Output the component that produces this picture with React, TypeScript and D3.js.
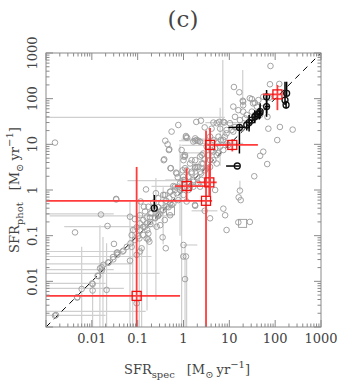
import React from 'react';
import * as d3 from 'd3';

const W = 337;
const H = 382;
const FRAME = { left: 46, right: 321, top: 53, bottom: 327 };

const axisDomain: [number, number] = [0.001, 1000];
const tickValues = [0.01, 0.1, 1, 10, 100, 1000];
const tickLabels = ['0.01', '0.1', '1', '10', '100', '1000'];

// [SFR_spec, SFR_phot] for the grey comparison sample
const grayPoints: [number, number][] = [
  [79, 520], [12.6, 180], [16.5, 138], [77, 207], [123, 210], [74, 105], [19.6, 90], [20, 72], [31, 98], [36, 81],
  [68, 40], [71, 22], [127, 24], [111, 12.4], [55, 6.9], [7.8, 30], [6, 31], [4.5, 30], [1.9, 31], [2.4, 33],
  [1.2, 14], [1.8, 12], [2.1, 12], [1.07, 5.4], [1.0, 4.5], [1.8, 3.2], [47, 5.6],
  [20, 86], [28, 102], [33, 79], [43, 93], [55, 110], [40, 67], [51, 61], [12.2, 67], [15.7, 56], [20, 52],
  [24, 44], [31, 52], [36, 44], [47, 44], [22, 37], [17, 34], [13.3, 40], [7.4, 31], [10.3, 29], [13.3, 24],
  [18.6, 22], [11.2, 20.6], [8.7, 20.6], [6.3, 22], [5.3, 29], [4.1, 22], [2.9, 23.5], [5.8, 14.7], [7.4, 12.4],
  [4.5, 12.4], [3.8, 14.7], [8.7, 10.5], [6.3, 8.9], [3.2, 8.9], [2.3, 11.4], [1.8, 13.5], [4.5, 6.9], [2.7, 6.3],
  [2.3, 5.4], [1.8, 4.5], [1.39, 3.8], [1.94, 3.2], [2.7, 3.8], [3.8, 4.5], [5.3, 5.8], [1.17, 2.7], [1.5, 2.3],
  [2.3, 2.5], [3.2, 3.0], [0.99, 1.95], [1.08, 1.65], [1.64, 1.52], [2.3, 1.18], [1.39, 1.18], [0.91, 1.09],
  [241, 21], [67, 3.7], [35, 2.0], [0.91, 7.5], [1.08, 3.0],
  [0.00157, 0.00177], [0.0048, 0.0045], [0.006, 0.0068], [0.0104, 0.0087], [0.0104, 0.0063], [0.021, 0.0065],
  [0.0134, 0.0133], [0.0164, 0.0203], [0.0164, 0.0171], [0.0229, 0.026], [0.0294, 0.0303], [0.036, 0.043],
  [0.036, 0.038], [0.0304, 0.066], [0.049, 0.047], [0.058, 0.057], [0.068, 0.0284], [0.07, 0.068], [0.087, 0.08],
  [0.103, 0.098], [0.095, 0.038], [0.112, 0.045], [0.122, 0.053], [0.112, 0.133], [0.133, 0.157], [0.157, 0.186],
  [0.171, 0.112], [0.157, 0.087], [0.18, 0.074], [0.186, 0.25], [0.2, 0.31], [0.24, 0.24], [0.28, 0.28],
  [0.26, 0.157], [0.33, 0.36], [0.39, 0.22], [0.43, 0.43], [0.55, 0.47], [0.41, 0.053], [0.137, 0.43],
  [0.116, 0.56], [0.068, 0.26], [0.152, 1.03], [0.25, 0.85], [0.39, 0.78], [0.52, 0.92], [0.65, 1.0], [0.77, 1.18],
  [0.0158, 0.29], [0.022, 0.163], [0.0043, 0.118], [0.034, 0.64], [1.0, 0.0625], [0.99, 0.035], [1.13, 0.035],
  [1.08, 0.0112],
  [0.0151, 0.0193], [0.0178, 0.023], [0.023, 0.0256], [0.029, 0.034], [0.047, 0.045], [0.074, 0.057],
  [0.109, 0.087], [0.133, 0.103], [0.162, 0.133], [0.19, 0.18], [0.28, 0.27], [0.51, 0.51], [0.31, 0.17],
  [0.17, 0.083], [0.35, 0.092], [0.095, 0.0033], [0.0102, 0.009], [0.0048, 0.0044],
  [17, 0.97], [16, 0.69], [17.7, 0.6], [7.4, 0.39], [8.1, 0.28], [15.7, 0.196], [28, 0.2], [8.7, 0.133],
  [1.8, 0.45], [1.17, 0.56], [2.9, 0.35],
  [0.00157, 10.9], [0.77, 26.5], [1.13, 14.2], [0.45, 10], [0.48, 7.5], [0.37, 4.5], [0.53, 3.0], [0.71, 2.3],
  [1.0, 5.4], [1.08, 5.8], [0.96, 2.7], [0.75, 1.9], [0.6, 1.22], [0.034, 0.62],
  [1.13, 15.2], [0.49, 7.8], [0.38, 4.7], [0.52, 3.0], [0.69, 2.4], [1.64, 11.5], [1.94, 12.4], [2.5, 5.8],
  [1.5, 4.5], [2.1, 3.2], [2.5, 3.8], [2.9, 4.7], [3.5, 5.8], [4.1, 7.3], [4.9, 8.2], [5.5, 10.5], [6.5, 12.4],
  [8.0, 14.7], [8.7, 17.4], [12.2, 19], [5.8, 6.4], [7.4, 7.5], [9.5, 9.7], [4.5, 4.5], [5.3, 3.8], [3.8, 3.2],
  [2.95, 2.7], [2.4, 2.3], [1.94, 1.96], [1.64, 1.66], [1.34, 1.45], [1.08, 1.14], [0.84, 1.0], [0.71, 0.85],
  [0.6, 0.78], [0.49, 0.66], [0.42, 0.58], [0.33, 0.51], [0.28, 0.42], [0.24, 0.38], [0.19, 0.31], [0.157, 0.25],
  [0.133, 0.22], [0.112, 0.186], [0.095, 0.152], [0.08, 0.133], [0.074, 0.103],
  [1.0, 1.66], [1.28, 1.96], [1.5, 2.5], [1.78, 3.0], [0.84, 1.4], [0.65, 1.18], [0.51, 0.92], [0.36, 0.78],
  [0.28, 0.66], [0.22, 0.53], [0.171, 0.43], [0.145, 0.34], [0.112, 0.28], [0.087, 0.23],
  [1.28, 1.0], [1.64, 1.18], [2.1, 1.4], [2.5, 1.66], [1.0, 0.78], [0.77, 0.6], [0.6, 0.51], [0.47, 0.42],
  [0.36, 0.36], [0.3, 0.3], [0.24, 0.25], [0.186, 0.2], [0.145, 0.157],
  [1.78, 0.47], [4.9, 1.0], [3.8, 0.24], [0.51, 0.28], [0.55, 19], [0.4, 12],
  [0.00165, 0.00183], [0.0138, 0.013], [0.035, 0.042],
];

// grey squares (hollow) [SFR_spec, SFR_phot]
const graySquares: [number, number][] = [[0.52, 0.35], [19.5, 0.186]];

// grey horizontal error bars [SFR_phot, low SFR_spec, high SFR_spec]
const grayXErr: [number, number, number][] = [
  [39, 0.0001, 8], [0.3, 0.0001, 0.03], [0.27, 0.0012, 0.6], [0.157, 0.0025, 0.25], [0.045, 0.0001, 0.05],
  [0.035, 0.0001, 0.2], [0.024, 0.0001, 0.08], [0.018, 0.0001, 0.03], [0.015, 0.0001, 0.3], [0.009, 0.0001, 0.02],
  [0.007, 0.0001, 0.05], [0.0022, 0.0001, 0.15], [0.0018, 0.0001, 0.02], [0.35, 1.5, 5.5], [12, 0.8, 3.5],
  [13, 0.9, 6], [9.5, 0.9, 3.5], [6.5, 0.9, 5], [30, 3, 20], [10.5, 2, 20], [1.66, 0.4, 1.4], [1.6, 0.06, 1.0],
  [0.0625, 1.0, 2.0], [1.2, 0.2, 1.1], [0.6, 0.3, 0.9],
];

// grey vertical error bars [SFR_spec, low SFR_phot, high SFR_phot]
const grayYErr: [number, number, number][] = [
  [0.006, 0.00001, 0.057], [0.015, 0.00001, 0.17], [0.0175, 0.00001, 0.093], [0.021, 0.00001, 0.068],
  [0.068, 0.00001, 0.55], [0.078, 0.00001, 0.157], [0.108, 0.00001, 0.6], [0.122, 0.00001, 0.057],
  [0.16, 0.0023, 0.13], [0.25, 0.0039, 1.83], [0.91, 0.00001, 1.6], [1.08, 0.00001, 0.063],
  [1.17, 0.00001, 0.03], [17, 0.97, 1.6], [19.6, 66, 424], [6.3, 3.4, 63], [0.36, 0.065, 1.15],
  [0.84, 0.1, 10], [7.2, 12, 700], [0.0104, 0.00001, 0.0087],
];

// black sample [spec, phot, specLo, specHi, photLo, photHi]
const blackPoints: [number, number, number, number, number, number][] = [
  [16.6, 23.5, 9.5, 28, 6.3, 26.5], [24, 26.5, 24, 24, 20, 32], [27, 30, 27, 27, 19, 44], [31, 34, 28, 35, 31, 34],
  [36, 40, 36, 36, 29, 56], [42, 46, 33, 55, 42, 46], [47, 52, 47, 47, 37, 79], [65, 67, 60, 75, 48, 131],
  [65, 110, 65, 65, 40, 155], [164, 93, 164, 164, 73, 235], [173, 73, 173, 173, 60, 90], [178, 131, 178, 178, 110, 235],
  [38, 42, 38, 38, 38, 42], [45, 48, 45, 45, 35, 62], [14.9, 3.35, 8.5, 17, 3.35, 3.35], [0.23, 0.4, 0.23, 0.23, 0.37, 0.78],
];

// red sample [spec, phot, specLo, specHi, photLo, photHi]
const redPoints: [number, number, number, number, number, number][] = [
  [0.095, 0.0048, 0.0001, 0.84, 0.00001, 3.2],
  [3.1, 0.58, 0.0001, 4.2, 0.00001, 20],
  [1.17, 1.22, 0.65, 3.8, 0.58, 3.0],
  [3.66, 1.47, 1.94, 5.3, 0.74, 3.5],
  [3.8, 9.7, 3.3, 10, 0.74, 22.7],
  [11.6, 9.7, 4.9, 42, 7, 13],
  [112, 124, 54, 134, 56, 199],
];

const FONT = "'DejaVu Serif', 'Liberation Serif', serif";
const TEXT = '#444';
const AXIS = '#8a8a8a';

export default function App() {
  const x = d3.scaleLog().domain(axisDomain).range([FRAME.left, FRAME.right]);
  const y = d3.scaleLog().domain(axisDomain).range([FRAME.bottom, FRAME.top]);
  const ticks = x.ticks();
  const isMajor = (v: number) => Math.abs(Math.log10(v) - Math.round(Math.log10(v))) < 1e-6;
  const fw = FRAME.right - FRAME.left;
  const fh = FRAME.bottom - FRAME.top;
  const sq = 9;

  return (
    <svg width={W} height={H} style={{ position: 'absolute', left: 0, top: 0, background: '#fff' }}
      fontFamily={FONT}>
      <defs>
        <clipPath id="plotclip">
          <rect x={FRAME.left} y={FRAME.top} width={fw} height={fh} />
        </clipPath>
      </defs>

      <text x={183} y={27} textAnchor="middle" fontSize={23} fill={TEXT}>(c)</text>

      <g clipPath="url(#plotclip)">
        {grayXErr.map((d, i) => (
          <line key={'gx' + i} x1={x(d[1])} x2={x(d[2])} y1={y(d[0])} y2={y(d[0])} stroke="#cfcfcf" strokeWidth={1.2} />
        ))}
        {grayYErr.map((d, i) => (
          <line key={'gy' + i} x1={x(d[0])} x2={x(d[0])} y1={y(d[1])} y2={y(d[2])} stroke="#cfcfcf" strokeWidth={1.2} />
        ))}
        <line x1={x(axisDomain[0])} y1={y(axisDomain[0])} x2={x(axisDomain[1])} y2={y(axisDomain[1])}
          stroke="#000" strokeWidth={1} strokeDasharray="6,5" />
        {grayPoints.map((d, i) => (
          <circle key={'gp' + i} cx={x(d[0])} cy={y(d[1])} r={2.8} fill="none" stroke="#9a9a9a" strokeWidth={0.9} />
        ))}
        {graySquares.map((d, i) => (
          <rect key={'gs' + i} x={x(d[0]) - 4} y={y(d[1]) - 4} width={8} height={8} fill="none" stroke="#9a9a9a" strokeWidth={0.9} />
        ))}
        {blackPoints.map((d, i) => (
          <g key={'bp' + i}>
            <line x1={x(d[2])} x2={x(d[3])} y1={y(d[1])} y2={y(d[1])} stroke="#000" strokeWidth={1.5} />
            <line x1={x(d[0])} x2={x(d[0])} y1={y(d[4])} y2={y(d[5])} stroke="#000" strokeWidth={1.5} />
            <circle cx={x(d[0])} cy={y(d[1])} r={3} fill="none" stroke="#111" strokeWidth={1.3} />
          </g>
        ))}
        {redPoints.map((d, i) => (
          <g key={'rp' + i}>
            <line x1={x(d[2])} x2={x(d[3])} y1={y(d[1])} y2={y(d[1])} stroke="#ff3b3b" strokeWidth={1.8} />
            <line x1={x(d[0])} x2={x(d[0])} y1={y(d[4])} y2={y(d[5])} stroke="#ff3b3b" strokeWidth={1.8} />
            <rect x={x(d[0]) - sq / 2} y={y(d[1]) - sq / 2} width={sq} height={sq} fill="none" stroke="#f01010" strokeWidth={1.3} />
          </g>
        ))}
      </g>

      <rect x={FRAME.left} y={FRAME.top} width={fw} height={fh} fill="none" stroke={AXIS} strokeWidth={1} />
      {ticks.map((t, i) => {
        const len = isMajor(t) ? 7 : 3.5;
        const px = x(t);
        const py = y(t);
        return (
          <g key={'t' + i} stroke={AXIS} strokeWidth={1}>
            <line x1={px} x2={px} y1={FRAME.bottom} y2={FRAME.bottom - len} />
            <line x1={px} x2={px} y1={FRAME.top} y2={FRAME.top + len} />
            <line y1={py} y2={py} x1={FRAME.left} x2={FRAME.left + len} />
            <line y1={py} y2={py} x1={FRAME.right} x2={FRAME.right - len} />
          </g>
        );
      })}

      {tickValues.map((v, i) => (
        <text key={'xl' + i} x={x(v)} y={343} textAnchor="middle" fontSize={13} fill={TEXT}>{tickLabels[i]}</text>
      ))}
      {tickValues.map((v, i) => (
        <text key={'yl' + i} transform={`translate(37,${y(v)}) rotate(-90)`} textAnchor="middle" fontSize={13} fill={TEXT}>{tickLabels[i]}</text>
      ))}

      <text x={187} y={374} textAnchor="middle" fontSize={13} fill={TEXT}>
        SFR<tspan fontSize={10} dy={4}>spec</tspan>
        <tspan dy={-4} dx={12}>[M</tspan><tspan fontSize={10} dy={4}>⊙</tspan>
        <tspan dy={-4} dx={3}>yr</tspan><tspan fontSize={10} dy={-6}>−1</tspan>
        <tspan dy={6}>]</tspan>
      </text>
      <text transform={`translate(19,${(FRAME.top + FRAME.bottom) / 2}) rotate(-90)`} textAnchor="middle" fontSize={13} fill={TEXT}>
        SFR<tspan fontSize={10} dy={4}>phot</tspan>
        <tspan dy={-4} dx={12}>[M</tspan><tspan fontSize={10} dy={4}>⊙</tspan>
        <tspan dy={-4} dx={3}>yr</tspan><tspan fontSize={10} dy={-6}>−1</tspan>
        <tspan dy={6}>]</tspan>
      </text>
    </svg>
  );
}
